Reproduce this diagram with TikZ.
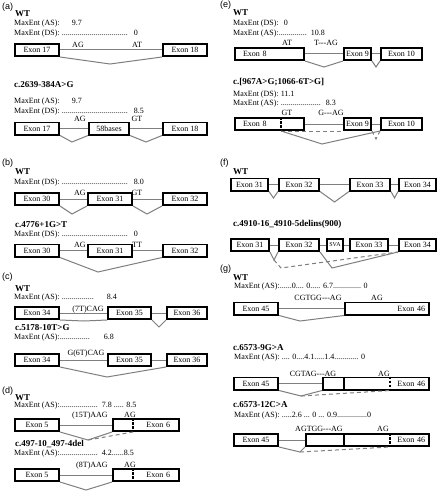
\documentclass[tikz,border=0pt]{standalone}
\usepackage{fontspec}
\setmainfont{Liberation Serif}
\newfontfamily\panelfont{Liberation Sans}
\usepackage{tikz}
\usetikzlibrary{calc}
\definecolor{stone}{HTML}{7F7F7F}

\begin{document}
\begin{tikzpicture}[x=1pt, y=-1pt,
  exon/.style={rectangle, draw=black, line width=1.6pt, minimum height=12.4pt,
               inner sep=0pt, font=\fontsize{8}{9}\selectfont},
  intron/.style={draw=stone, line width=1pt},
  alt/.style={intron, dashed, dash pattern=on 4pt off 3pt},
  cut/.style={draw=black, line width=1.4pt, dash pattern=on 2.5pt off 1.5pt},
  bar/.style={draw=black, line width=1.6pt},
  site/.style={anchor=base, inner sep=0pt, font=\fontsize{8}{9}\selectfont},
  ttl/.style={anchor=west, inner sep=0pt, font=\fontsize{9}{10}\selectfont\bfseries},
  note/.style={anchor=west, inner sep=0pt, font=\fontsize{8}{9}\selectfont},
  tag/.style={anchor=west, inner sep=0pt, font=\panelfont\fontsize{9}{10}\selectfont},
]
\useasboundingbox[fill=white] (0,0) rectangle (441,500);
% ---------------- panel (a)
\node[tag] (pa) at (2,7) {(a)};
\node[ttl] (awt) at (15,14) {WT};
\node[note] (aas) at (14,24) {MaxEnt (AS):\hspace{12pt}9.7};
\node[note] (ads) at (14,34) {MaxEnt (DS): .................................\hspace{6pt}0};
\node[exon, minimum width=44.4pt] (a17) at (37,50) {Exon 17};
\node[exon, minimum width=44.4pt] (a18) at (185,50) {Exon 18};
\node[site] (aag) at (78,48) {AG};
\node[site] (aat) at (137,48) {AT};
\coordinate (av) at (110,64);
\draw[intron] (a17) -- (a18);
\draw[intron] (a17.south east) -- (av) -- (a18.south west);

\node[ttl] (amt) at (14,85) {c.2639-384A>G};
\node[note] (bas) at (14,102) {MaxEnt (AS):\hspace{12pt}9.7};
\node[note] (bds) at (14,112) {MaxEnt (DS): .................................\hspace{6pt}8.5};
\node[exon, minimum width=44.4pt] (b17) at (37,128.5) {Exon 17};
\node[exon, minimum width=40.4pt] (b58) at (109,128.5) {58bases};
\node[exon, minimum width=44.4pt] (b18) at (185,128.5) {Exon 18};
\node[site] (bag) at (80,121.5) {AG};
\node[site] (bgt) at (137,121.5) {GT};
\coordinate (bv1) at (72,142);
\coordinate (bv2) at (146,142);
\draw[intron] (b17) -- (b58);
\draw[intron] (b58) -- (b18);
\draw[intron] (b17.south east) -- (bv1) -- (b58.south west);
\draw[intron] (b58.south east) -- (bv2) -- (b18.south west);

% ---------------- panel (b)
\node[tag] (pb) at (2,163) {(b)};
\node[ttl] (cwt) at (15,172) {WT};
\node[note] (cds) at (14,183) {MaxEnt (DS): .................................\hspace{6pt}8.0};
\node[exon, minimum width=44.4pt] (c30) at (37,199) {Exon 30};
\node[exon, minimum width=44.4pt] (c31) at (110,199) {Exon 31};
\node[exon, minimum width=44.4pt] (c32) at (185,199) {Exon 32};
\node[site] (cag) at (80,195) {AG};
\node[site] (cgt) at (137,195) {GT};
\coordinate (cv1) at (72,214);
\coordinate (cv2) at (147,214);
\draw[intron] (c30) -- (c31);
\draw[intron] (c31) -- (c32);
\draw[intron] (c30.south east) -- (cv1) -- (c31.south west);
\draw[intron] (c31.south east) -- (cv2) -- (c32.south west);

\node[ttl] (dmt) at (15,225) {c.4776+1G>T};
\node[note] (dds) at (14,235) {MaxEnt (DS): .................................\hspace{6pt}0};
\node[exon, minimum width=44.4pt] (d30) at (37,250.5) {Exon 30};
\node[exon, minimum width=44.4pt] (d31) at (110,250.5) {Exon 31};
\node[exon, minimum width=44.4pt] (d32) at (185,250.5) {Exon 32};
\node[site] (dag) at (80,247) {AG};
\node[site] (dtt) at (137,247) {TT};
\coordinate (dv) at (98,272);
\draw[intron] (d30) -- (d31);
\draw[intron] (d31) -- (d32);
\draw[intron] (d30.south east) -- (dv) -- (d32.south west);

% ---------------- panel (c)
\node[tag] (pc) at (2,277) {(c)};
\node[ttl] (ewt) at (15,289) {WT};
\node[note] (eas) at (14,298) {MaxEnt (AS): ................\hspace{13pt}8.4};
\node[exon, minimum width=44.4pt] (e34) at (37,313) {Exon 34};
\node[exon, minimum width=43.4pt] (e35) at (129.5,313) {Exon 35};
\node[exon, minimum width=40.4pt] (e36) at (187,313) {Exon 36};
\node[site] (ecag) at (88,311) {(7T)CAG};
\coordinate (ev1) at (84,321);
\coordinate (ev2) at (159,327);
\draw[intron] (e34) -- (e35);
\draw[intron] (e35) -- (e36);
\draw[intron] (e34.south east) -- (ev1) -- (e35.south west);
\draw[intron] (e35.south east) -- (ev2) -- (e36.south west);

\node[ttl] (fmt) at (15,328) {c.5178-10T>G};
\node[note] (fas) at (14,338) {MaxEnt (AS):...............\hspace{14pt}6.8};
\node[exon, minimum width=44.4pt] (f34) at (37,360) {Exon 34};
\node[exon, minimum width=43.4pt] (f35) at (129.5,360) {Exon 35};
\node[exon, minimum width=40.4pt] (f36) at (187,360) {Exon 36};
\node[site] (fcag) at (86,355) {G(6T)CAG};
\coordinate (fv) at (107,377);
\draw[intron] (f34) -- (f35);
\draw[intron] (f35) -- (f36);
\draw[intron] (f34.south east) -- (fv) -- (f36.south west);

% ---------------- panel (d)
\node[tag] (pd) at (2,391) {(d)};
\node[ttl] (gwt) at (15,398) {WT};
\node[note] (gas) at (14,406) {MaxEnt (AS):...................\hspace{4pt}7.8 ..... 8.5};
\node[exon, minimum width=44.4pt] (g5) at (37,425) {Exon 5};
\node[exon, minimum width=66.4pt, text width=48pt, align=right] (g6) at (146,425) {Exon 6};
\node[site] (gaag) at (90,417) {(15T)AAG};
\node[site] (gag) at (130,417) {AG};
\coordinate (gcut) at (133,425);
\coordinate (gv) at (88,440);
\draw[cut] (gcut |- g6.north) -- (gcut |- g6.south);
\draw[intron] (g5) -- (g6);
\draw[intron] (g5.south east) -- (gv) -- (g6.south west);
\draw[alt] (gv) -- (gcut |- g6.south);

\node[ttl] (hmt) at (15,444) {c.497-10\_497-4del};
\node[note] (has) at (14,454) {MaxEnt (AS):...................\hspace{4pt}4.2......8.5};
\node[exon, minimum width=44.4pt] (h5) at (37,475) {Exon 5};
\node[exon, minimum width=66.4pt, text width=48pt, align=right] (h6) at (146,475) {Exon 6};
\node[site] (haag) at (92,467) {(8T)AAG};
\node[site] (hag) at (130,467) {AG};
\coordinate (hcut) at (133,475);
\coordinate (hv) at (86,490);
\draw[cut] (hcut |- h6.north) -- (hcut |- h6.south);
\draw[intron] (h5) -- (h6);
\draw[intron] (h5.south east) -- (hv) -- (h6.south west);

% ---------------- panel (e)
\node[tag] (pe) at (220,5) {(e)};
\node[ttl] (iwt) at (233,13) {WT};
\node[note] (ids) at (233,24) {MaxEnt (DS):\hspace{5pt}0};
\node[note] (ias) at (233,34) {MaxEnt (AS):..............\hspace{4pt}10.8};
\node[exon, minimum width=69.4pt, text width=53pt, align=left] (i8) at (269.5,54) {Exon 8};
\node[exon, minimum width=27.4pt] (i9) at (357.5,54) {Exon 9};
\node[exon, minimum width=41.4pt] (i10) at (401.5,54) {Exon 10};
\node[site] (iat) at (287,46) {AT};
\node[site] (itag) at (326,46) {T-{}-{}-AG};
\coordinate (iv1) at (324,67);
\coordinate (iv2) at (376,67);
\draw[intron] (i8) -- (i9);
\draw[intron] (i9) -- (i10);
\draw[intron] (i8.south east) -- (iv1) -- (i9.south west);
\draw[intron] (i9.south east) -- (iv2) -- (i10.south west);

\node[ttl] (jmt) at (233,82) {c.[967A>G;1066-6T>G]};
\node[note] (jds) at (233,95) {MaxEnt (DS): 11.1};
\node[note] (jas) at (233,104) {MaxEnt (AS): ....................\hspace{5pt}8.3};
\node[exon, minimum width=69.4pt, text width=53pt, align=left] (j8) at (269.5,124) {Exon 8};
\node[exon, minimum width=27.4pt] (j9) at (357.5,124) {Exon 9};
\node[exon, minimum width=41.4pt] (j10) at (401.5,124) {Exon 10};
\node[site] (jgt) at (287,115) {GT};
\node[site] (jgag) at (331,115) {G-{}-{}-AG};
\coordinate (jcut) at (281,124);
\coordinate (jv1) at (322,144);
\coordinate (jv2) at (376,139);
\draw[cut] (jcut |- j8.north) -- (jcut |- j8.south);
\draw[intron] (j8) -- (j9);
\draw[intron] (j9) -- (j10);
\draw[intron] (jcut |- j8.south) -- (jv1) -- (j10.south west);
\draw[alt] (jcut |- j8.south) -- (j9.south west);
\draw[alt] (j9.south east) -- (jv2) -- (j10.south west);

% ---------------- panel (f)
\node[tag] (pf) at (220,163) {(f)};
\node[ttl] (kwt) at (233,172) {WT};
\node[exon, minimum width=37.4pt] (k31) at (249.5,184.5) {Exon 31};
\node[exon, minimum width=40.4pt] (k32) at (299,184.5) {Exon 32};
\node[exon, minimum width=40.4pt] (k33) at (370,184.5) {Exon 33};
\node[exon, minimum width=37.4pt] (k34) at (417.5,184.5) {Exon 34};
\coordinate (kv1) at (273.5,198);
\coordinate (kv2) at (334.5,202);
\coordinate (kv3) at (394.5,198);
\draw[intron] (k31) -- (k32);
\draw[intron] (k32) -- (k33);
\draw[intron] (k33) -- (k34);
\draw[intron] (k31.south east) -- (kv1) -- (k32.south west);
\draw[intron] (k32.south east) -- (kv2) -- (k33.south west);
\draw[intron] (k33.south east) -- (kv3) -- (k34.south west);

\node[ttl] (lmt) at (233,224) {c.4910-16\_4910-5delins(900)};
\node[exon, minimum width=38.4pt] (l31) at (250,245) {Exon 31};
\node[exon, minimum width=40.4pt] (l32) at (299,245) {Exon 32};
\node[exon, minimum width=16.4pt, font=\fontsize{6}{7}\selectfont] (lsva) at (335,245) {SVA};
\node[exon, minimum width=38.4pt] (l33) at (369,245) {Exon 33};
\node[exon, minimum width=37.4pt] (l34) at (417.5,245) {Exon 34};
\coordinate (lv1) at (274,260);
\coordinate (lv2) at (281,268);
\coordinate (lv3) at (332,268);
\draw[intron] (l31) -- (l32);
\draw[intron] (l32) -- (lsva);
\draw[intron] (lsva) -- (l33);
\draw[intron] (l33) -- (l34);
\draw[intron] (l31.south east) -- (lv1) -- (l32.south west);
\draw[alt] (lv1) -- (lv2) -- (l34.south west);
\draw[intron] (l32.south east) -- (lv3) -- (l34.south west);

% ---------------- panel (g)
\node[tag] (pg) at (220,269) {(g)};
\node[ttl] (mwt) at (233,278) {WT};
\node[note] (mas) at (234,287) {MaxEnt (AS):......0.... 0..... 6.7.............. 0};
\node[exon, minimum width=44.4pt] (m45) at (256,308.5) {Exon 45};
\node[exon, minimum width=84.4pt, text width=76pt, align=right] (m46) at (387,308.5) {Exon 46};
\node[site] (mseq) at (318,300) {CGTGG-{}-{}-AG};
\node[site] (mag) at (377,300) {AG};
\coordinate (mv) at (300,321);
\draw[intron] (m45) -- (m46);
\draw[intron] (m45.south east) -- (mv) -- (m46.south west);

\node[ttl] (nmt) at (233,348) {c.6573-9G>A};
\node[note] (nas) at (234,358) {MaxEnt (AS): .... 0....4.1.....1.4............ 0};
\node[exon, minimum width=44.4pt] (n45) at (256,383.5) {Exon 45};
\node[exon, minimum width=106.4pt, text width=98pt, align=right] (n46) at (376,383.5) {Exon 46};
\node[site] (nseq) at (313,376) {CGTAG-{}-{}-AG};
\node[site] (nag) at (384,376) {AG};
\coordinate (nbar) at (344,383.5);
\coordinate (ncut) at (390,383.5);
\coordinate (nv) at (301,396);
\draw[bar] (nbar |- n46.north) -- (nbar |- n46.south);
\draw[cut] (ncut |- n46.north) -- (ncut |- n46.south);
\draw[intron] (n45) -- (n46);
\draw[intron] (n45.south east) -- (nv) -- (n46.south west);
\draw[alt] (nv) -- (ncut |- n46.south);

\node[ttl] (pmt) at (233,405) {c.6573-12C>A};
\node[note] (pas) at (234,415.5) {MaxEnt (AS): .....2.6 ... 0 ... 0.9...............0};
\node[exon, minimum width=44.4pt] (p45) at (256,440) {Exon 45};
\node[exon, minimum width=123.4pt, text width=115pt, align=right] (p46) at (367.5,440) {Exon 46};
\node[site] (pseq) at (319,431) {AGTGG-{}-{}-AG};
\node[site] (pag) at (383,431) {AG};
\coordinate (pbar) at (344,440);
\coordinate (pcut) at (390,440);
\coordinate (pv) at (300,452);
\draw[bar] (pbar |- p46.north) -- (pbar |- p46.south);
\draw[cut] (pcut |- p46.north) -- (pcut |- p46.south);
\draw[intron] (p45) -- (p46);
\draw[intron] (p45.south east) -- (pv) -- (p46.south west);
\draw[alt] (pv) -- (pcut |- p46.south);
\end{tikzpicture}
\end{document}
